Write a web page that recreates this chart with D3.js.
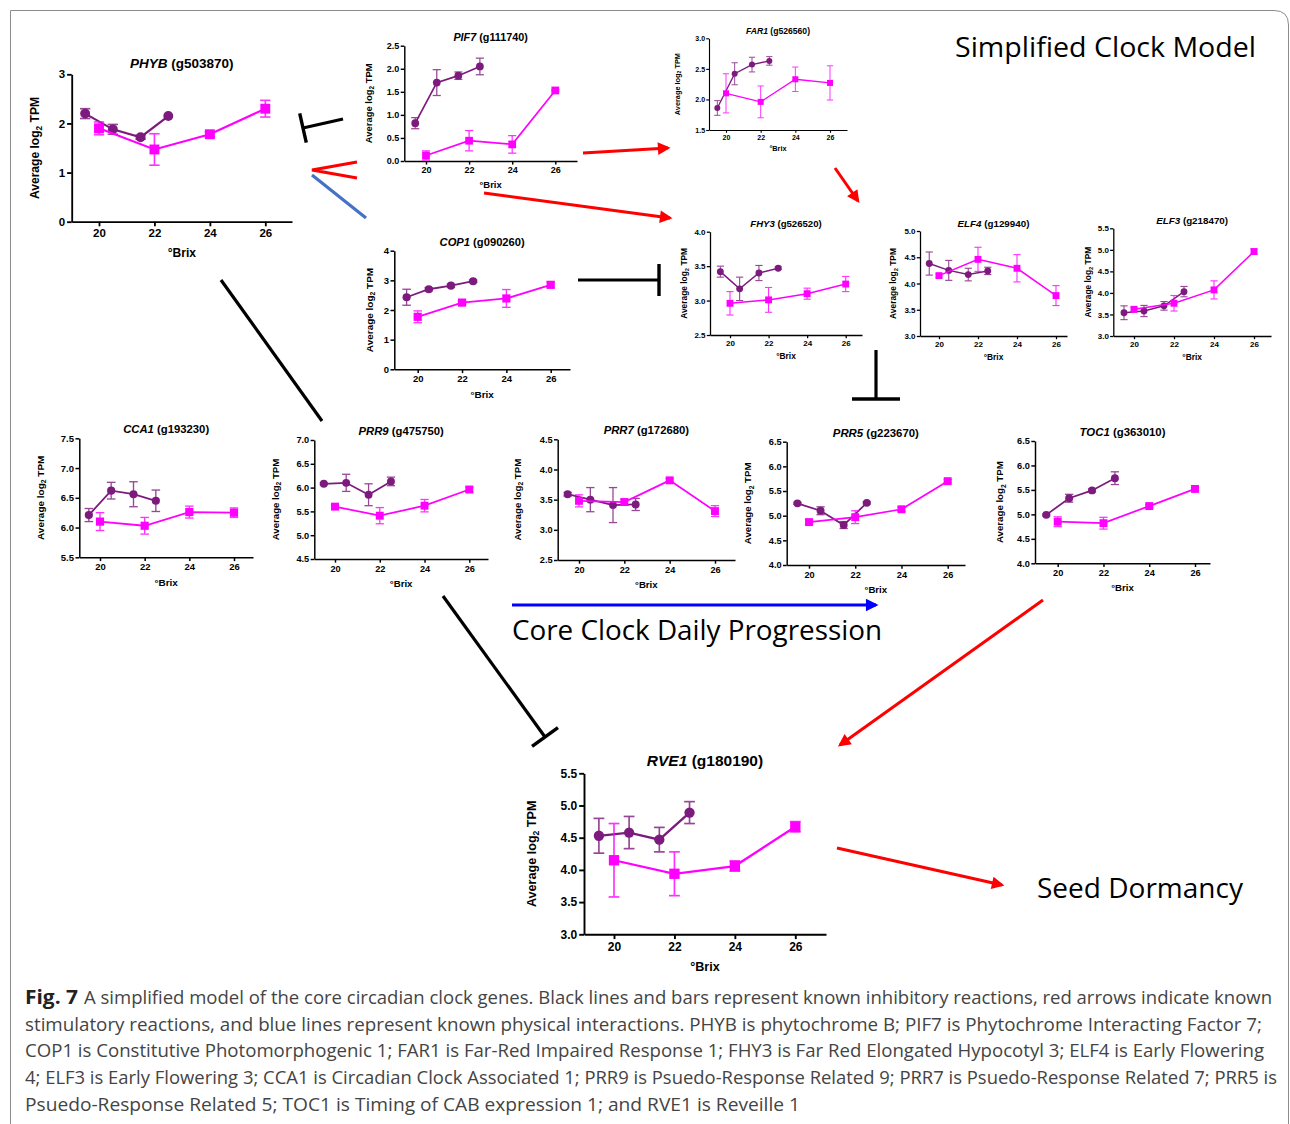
<!DOCTYPE html>
<html><head><meta charset="utf-8">
<script src="https://cdn.jsdelivr.net/npm/d3@7"></script>
<style>body{margin:0;background:#fff}svg{display:block}</style>
</head><body><svg id="c" width="1290" height="1124"></svg>
<script>
// ---------------- DATA ----------------
const genes   = ["PHYB","PIF7","FAR1","COP1","FHY3","ELF4","ELF3","CCA1","PRR9","PRR7","PRR5","TOC1","RVE1"];
const geneIds = ["g503870","g111740","g526560","g090260","g526520","g129940","g218470","g193230","g475750","g172680","g223670","g363010","g180190"];
const brixPurple  = [19.5, 20.5, 21.5, 22.5];
const brixMagenta = [20, 22, 24, 26];
const xTicks = [20, 22, 24, 26];
const yDomains = [[0,3],[0,2.5],[1.5,3],[0,4],[2.5,4],[3,5],[3,5.5],[5.5,7.5],[4.5,7],[2.5,4.5],[4,6.5],[4,6.5],[3,5.5]];
const yTickSteps = [1,0.5,0.5,1,0.5,0.5,0.5,0.5,0.5,0.5,0.5,0.5,0.5];
const purpleMean = [
  [2.2,1.88,1.72,2.15],[0.82,1.7,1.85,2.05],[1.86,2.42,2.57,2.63],[2.43,2.7,2.82,2.97],
  [3.42,3.17,3.4,3.47],[4.38,4.25,4.17,4.24],[3.54,3.58,3.7,4.03],[6.21,6.62,6.56,6.45],
  [6.08,6.1,5.85,6.13],[3.59,3.5,3.41,3.42],[5.25,5.1,4.81,5.26],[4.99,5.33,5.49,5.74],
  [4.53,4.58,4.47,4.89]];
const purpleErr = [
  [0.1,0.1,0.04,0],[0.12,0.28,0.08,0.18],[0.12,0.18,0.12,0.07],[0.27,0.05,0.05,0.04],
  [0.08,0.17,0.11,0.02],[0.22,0.19,0.12,0.07],[0.16,0.13,0.1,0.12],[0.11,0.14,0.21,0.18],
  [0.02,0.18,0.23,0.09],[0.03,0.2,0.29,0.1],[0.02,0.08,0.07,0.02],[0.02,0.08,0.03,0.13],
  [0.27,0.25,0.19,0.17]];
const magentaMean = [
  [1.9,1.47,1.78,2.3],[0.12,0.44,0.36,1.53],[2.1,1.96,2.33,2.27],[1.77,2.25,2.39,2.85],
  [2.96,3.01,3.1,3.24],[4.15,4.46,4.29,3.77],[3.62,3.76,4.07,4.96],[6.1,6.03,6.26,6.25],
  [5.6,5.41,5.62,5.96],[3.48,3.46,3.82,3.31],[4.87,4.97,5.13,5.7],[4.85,4.82,5.17,5.52],
  [4.15,3.94,4.06,4.67]];
const magentaErr = [
  [0.13,0.32,0.05,0.17],[0.1,0.22,0.19,0.02],[0.32,0.26,0.2,0.28],[0.2,0.05,0.3,0.1],
  [0.17,0.18,0.08,0.11],[0.03,0.23,0.26,0.19],[0.05,0.18,0.21,0.06],[0.15,0.14,0.1,0.08],
  [0.03,0.17,0.13,0.05],[0.1,0.05,0.03,0.09],[0.05,0.13,0.04,0.03],[0.1,0.12,0.03,0.03],
  [0.57,0.34,0.08,0.08]];
const captionLines = [
  "A simplified model of the core circadian clock genes. Black lines and bars represent known inhibitory reactions, red arrows indicate known",
  "stimulatory reactions, and blue lines represent known physical interactions. PHYB is phytochrome B; PIF7 is Phytochrome Interacting Factor 7;",
  "COP1 is Constitutive Photomorphogenic 1; FAR1 is Far-Red Impaired Response 1; FHY3 is Far Red Elongated Hypocotyl 3; ELF4 is Early Flowering",
  "4; ELF3 is Early Flowering 3; CCA1 is Circadian Clock Associated 1; PRR9 is Psuedo-Response Related 9; PRR7 is Psuedo-Response Related 7; PRR5 is",
  "Psuedo-Response Related 5; TOC1 is Timing of CAB expression 1; and RVE1 is Reveille 1"];

// ---------------- LAYOUT ----------------
const layout = [
 {l:71.7,  x20:99,    x26:265.3, end:292,  t:74.3,  b:221.7, fs:11.5, ts:13.5, yl:37},
 {l:404.3, x20:426,   x26:555.3, end:577,  t:45.7,  b:161,   fs:9,    ts:10.8, yl:36},
 {l:709,   x20:726,   x26:830,   end:847,  t:38.3,  b:130,   fs:7,    ts:8.6,  yl:32},
 {l:394.3, x20:417.7, x26:550.7, end:570,  t:250.7, b:369.3, fs:9.5,  ts:11.2, yl:25},
 {l:710,   x20:730,   x26:845.7, end:862,  t:231.7, b:335,   fs:8,    ts:9.6,  yl:26},
 {l:920,   x20:939,   x26:1056,  end:1067, t:231,   b:336,   fs:8,    ts:9.8,  yl:27},
 {l:1113.3,x20:1134,  x26:1254,  end:1271, t:228.3, b:336,   fs:8,    ts:9.8,  yl:25},
 {l:79.3,  x20:100,   x26:234,   end:253,  t:438.3, b:557.3, fs:9.5,  ts:11.3, yl:39},
 {l:314.3, x20:335,   x26:469.3, end:488,  t:440,   b:559,   fs:9.2,  ts:11.3, yl:38.6},
 {l:557.7, x20:579,   x26:715,   end:735,  t:439.3, b:560,   fs:9.2,  ts:11.3, yl:40},
 {l:786.7, x20:809,   x26:947.7, end:965,  t:441.7, b:565,   fs:9.2,  ts:11.4, yl:38.7},
 {l:1035,  x20:1057.7,x26:1195,  end:1210, t:441,   b:563.3, fs:9.2,  ts:11.4, yl:35},
 {l:584,   x20:614,   x26:795.3, end:826,  t:773.3, b:934.3, fs:12,   ts:15.5, yl:52}
];
const PURPLE = "#7d1a7d", MAGENTA = "#ff00ff";
const FONT = "'Liberation Sans', Arial, sans-serif";

const svg = d3.select("#c");
svg.append("rect").attr("width",1290).attr("height",1124).attr("fill","#fff");
svg.append("path").attr("d","M10.5,1124 L10.5,10.5 L1274,10.5 Q1288.5,10.5 1288.5,25 L1288.5,1124")
  .attr("fill","none").attr("stroke","#8c8c8c").attr("stroke-width",1);

function drawPanel(i){
  const L = layout[i], s = L.fs/10;
  const g = svg.append("g").attr("font-family",FONT).attr("font-weight","bold");
  const base = d3.scaleLinear().domain([20,26]).range([L.x20,L.x26]);
  const x = d3.scaleLinear().domain([base.invert(L.l), base.invert(L.end)]).range([L.l, L.end]);
  const y = d3.scaleLinear().domain(yDomains[i]).range([L.b, L.t]);
  const step = yTickSteps[i];
  const ticks = d3.range(yDomains[i][0], yDomains[i][1]+step/2, step);
  const fmt = step < 1 ? d3.format(".1f") : d3.format("d");
  const ya = g.append("g").attr("transform",`translate(${L.l},0)`)
    .call(d3.axisLeft(y).tickValues(ticks).tickFormat(fmt).tickSize(4*s).tickSizeOuter(0).tickPadding(1.6*s));
  const xa = g.append("g").attr("transform",`translate(0,${L.b})`)
    .call(d3.axisBottom(x).tickValues(xTicks).tickFormat(d3.format("d")).tickSize(4*s).tickSizeOuter(0).tickPadding(2.6*s));
  [ya,xa].forEach(a=>{
    a.selectAll("path,line").attr("stroke","#000").attr("stroke-width",1.6*s);
    a.selectAll("text").attr("font-size",L.fs).attr("font-family",FONT).attr("font-weight","bold").attr("fill","#000");
  });
  const tt = g.append("text").attr("x",(L.l+L.end)/2).attr("y",L.t-0.45*L.ts)
    .attr("text-anchor","middle").attr("font-size",L.ts).attr("fill","#000");
  tt.append("tspan").attr("font-style","italic").text(genes[i]);
  tt.append("tspan").text(" (" + geneIds[i] + ")");
  const yl = g.append("text").attr("transform",`translate(${L.l-L.yl},${(L.t+L.b)/2}) rotate(-90)`)
    .attr("text-anchor","middle").attr("dy","0.35em").attr("font-size",L.fs*1.05).attr("fill","#000");
  yl.append("tspan").text("Average log");
  yl.append("tspan").attr("font-size",L.fs*0.72).attr("dy","0.35em").text("2");
  yl.append("tspan").attr("dy","-0.25em").text(" TPM");
  g.append("text").attr("x",(L.l+L.end)/2).attr("y",L.b+3.05*L.fs).attr("text-anchor","middle")
    .attr("font-size",L.fs*1.05).attr("fill","#000").text("°Brix");

  const line = d3.line().x(d=>x(d[0])).y(d=>y(d[1]));
  function series(xs, means, errs, color, shape){
    const pts = xs.map((xv,k)=>[xv, means[k], errs[k]]);
    const eg = g.append("g").attr("stroke",color).attr("stroke-width",1.4*s).attr("opacity",0.8);
    pts.forEach(p=>{
      if (p[2] <= 0) return;
      const cx = x(p[0]), c = 4.5*s;
      eg.append("line").attr("x1",cx).attr("x2",cx).attr("y1",y(p[1]-p[2])).attr("y2",y(p[1]+p[2]));
      eg.append("line").attr("x1",cx-c).attr("x2",cx+c).attr("y1",y(p[1]-p[2])).attr("y2",y(p[1]-p[2]));
      eg.append("line").attr("x1",cx-c).attr("x2",cx+c).attr("y1",y(p[1]+p[2])).attr("y2",y(p[1]+p[2]));
    });
    g.append("path").datum(pts).attr("d",line).attr("fill","none").attr("stroke",color).attr("stroke-width",1.9*s);
    if (shape === "circle") {
      g.selectAll(null).data(pts).enter().append("circle")
        .attr("cx",d=>x(d[0])).attr("cy",d=>y(d[1])).attr("r",4.3*s).attr("fill",color);
    } else {
      const sz = 8.6*s;
      g.selectAll(null).data(pts).enter().append("rect")
        .attr("x",d=>x(d[0])-sz/2).attr("y",d=>y(d[1])-sz/2).attr("width",sz).attr("height",sz).attr("fill",color);
    }
  }
  series(brixPurple, purpleMean[i], purpleErr[i], PURPLE, "circle");
  series(brixMagenta, magentaMean[i], magentaErr[i], MAGENTA, "square");
}
genes.forEach((_,i)=>drawPanel(i));

// ---------------- ANNOTATIONS ----------------
const defs = svg.append("defs");
function marker(id,color){
  defs.append("marker").attr("id",id).attr("viewBox","0 0 10 10").attr("refX",8).attr("refY",5)
    .attr("markerWidth",5).attr("markerHeight",4.2).attr("orient","auto").attr("markerUnits","strokeWidth")
    .append("path").attr("d","M0,0 L10,5 L0,10 z").attr("fill",color);
}
marker("ar-red","#ff0000"); marker("ar-blue","#0000ff");
const ann = svg.append("g");
function arrow(x1,y1,x2,y2,color,mk,w){
  ann.append("line").attr("x1",x1).attr("y1",y1).attr("x2",x2).attr("y2",y2)
    .attr("stroke",color).attr("stroke-width",w||3).attr("marker-end",mk?`url(#${mk})`:null);
}
function inhibit(x1,y1,x2,y2,half){
  arrow(x1,y1,x2,y2,"#000",null,3.2);
  const dx=x2-x1, dy=y2-y1, n=Math.hypot(dx,dy), px=-dy/n, py=dx/n;
  ann.append("line").attr("x1",x2+px*half).attr("y1",y2+py*half).attr("x2",x2-px*half).attr("y2",y2-py*half)
    .attr("stroke","#000").attr("stroke-width",3.4);
}
inhibit(343,119,303,128,15);
inhibit(578,280,659,280,16);
inhibit(876,350,876,399,24);
inhibit(443,596,545,737,16);
arrow(221,280,322,421,"#000",null,3.2);
ann.append("path").attr("d","M357,162 L312,170 L357,178").attr("fill","none").attr("stroke","#ff0000").attr("stroke-width",3.2);
arrow(312,175,366,218,"#4472c4",null,3.2);
arrow(583,153,668,148,"#ff0000","ar-red",3);
arrow(484,193,670,218,"#ff0000","ar-red",3);
arrow(835,168,858,201,"#ff0000","ar-red",3);
arrow(1043,600,840,745,"#ff0000","ar-red",3);
arrow(837,848,1002,885,"#ff0000","ar-red",3);
arrow(512,605,876,605,"#0000ff","ar-blue",3);

const TF = "'Open Sans','Noto Sans',sans-serif";
function label(txt,x,y,size,len){
  svg.append("text").attr("x",x).attr("y",y).attr("font-family",TF).attr("font-size",size).attr("fill","#000")
    .attr("textLength",len).attr("lengthAdjust","spacingAndGlyphs").text(txt);
}
label("Simplified Clock Model",955,57,27,301);
label("Core Clock Daily Progression",512,640,27,370);
label("Seed Dormancy",1037,898,27,206);

// ---------------- CAPTION ----------------
const capY = [1004,1031,1057,1084,1111];
const capX0 = [84,25,25,25,25];
const capX1 = [1272,1262,1264,1277,800];
svg.append("text").attr("x",25).attr("y",capY[0]).attr("font-family",TF).attr("font-weight","bold")
  .attr("font-size",19).attr("fill","#222").attr("textLength",53).attr("lengthAdjust","spacingAndGlyphs").text("Fig. 7");
captionLines.forEach((t,k)=>{
  svg.append("text").attr("x",capX0[k]).attr("y",capY[k]).attr("font-family",TF).attr("font-size",18.5)
    .attr("fill","#444").attr("textLength",capX1[k]-capX0[k]).attr("lengthAdjust","spacingAndGlyphs").text(t);
});
</script></body></html>
